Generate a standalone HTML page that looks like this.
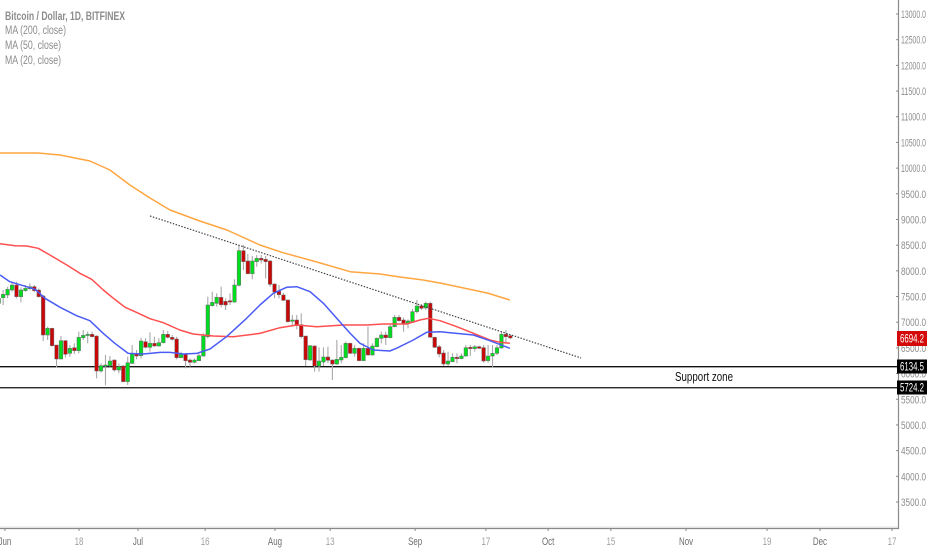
<!DOCTYPE html>
<html>
<head>
<meta charset="utf-8">
<title>Bitcoin / Dollar chart</title>
<style>
html,body{margin:0;padding:0;background:#fff;width:932px;height:550px;overflow:hidden}
svg{display:block;font-family:"Liberation Sans",sans-serif;filter:blur(0.35px)}
</style>
</head>
<body>
<svg id="chart" width="932" height="550" viewBox="0 0 932 550" xmlns="http://www.w3.org/2000/svg">
  <g id="legend" fill="#8c8c8c" font-size="11.5">
    <text x="5" y="20" font-weight="bold" textLength="120" lengthAdjust="spacingAndGlyphs">Bitcoin / Dollar, 1D, BITFINEX</text>
    <text x="5" y="34" textLength="61" lengthAdjust="spacingAndGlyphs">MA (200, close)</text>
    <text x="5" y="49" textLength="56" lengthAdjust="spacingAndGlyphs">MA (50, close)</text>
    <text x="5" y="64" textLength="56" lengthAdjust="spacingAndGlyphs">MA (20, close)</text>
  </g>
  <g id="marks"></g>
  <text x="675" y="381" font-size="12.5" fill="#111" textLength="58" lengthAdjust="spacingAndGlyphs">Support zone</text>
  <g id="axes"></g>
</svg>
<script>
var priceTicks = [13000,12500,12000,11500,11000,10500,10000,9500,9000,8500,8000,7500,7000,6500,6000,5500,5000,4500,4000,3500];
var dateTickBars = [1.4,18.05,31.3,46.4,62.1,74.5,93.6,109.5,123.5,137.6,154.5,172.7,184.6,200.8];
var dateTickLabels = ["Jun","18","Jul","16","Aug","13","Sep","17","Oct","15","Nov","19","Dec","17"];
var dateTickMajor = [1,0,1,0,1,0,1,0,1,0,1,0,1,0];

var opens = [7367,7478,7530,7627,7724,7497,7614,7653,7692,7627,7510,6751,6881,6556,6284,6641,6394,6504,6446,6699,6744,6764,6731,6050,6147,6154,6264,6070,6147,5843,6199,6394,6349,6621,6511,6589,6537,6602,6764,6705,6673,6310,6375,6264,6219,6251,6342,6718,7322,7367,7484,7406,7419,7393,7718,8393,8192,7945,8179,8243,8224,8192,7744,7601,7530,7432,7017,7043,6952,6731,6264,6537,6147,6225,6323,6264,6186,6265,6310,6589,6394,6492,6252,6492,6362,6524,6686,6751,6699,6914,7095,7043,6978,7011,7206,7316,7277,7368,6706,6524,6401,6187,6232,6317,6291,6342,6511,6485,6524,6505,6252,6342,6394,6498,6764,6738];
var highs = [7530,7627,7692,7789,7789,7679,7724,7757,7724,7659,7530,6913,6894,6556,6731,6654,6556,6589,6816,6848,6816,6816,6744,6199,6362,6342,6277,6199,6167,6329,6556,6459,6699,6686,6803,6718,6686,6848,6829,6751,6718,6427,6394,6297,6297,6394,6783,7497,7594,7562,7692,7465,7562,7835,8503,8503,8328,8289,8308,8308,8289,8211,7757,7724,7575,7445,7140,7140,7173,6731,6556,6550,6511,6511,6524,6277,6654,6557,6621,6602,6557,6505,6589,6914,6589,6706,6816,6816,6946,7141,7141,7089,7056,7257,7433,7355,7400,7400,6719,6557,6459,6427,6394,6394,6394,6557,6557,6557,6544,6557,6557,6557,6557,6816,6849,6751];
var lows = [7335,7335,7465,7595,7465,7387,7595,7627,7588,7478,6634,6654,6524,6121,6277,6316,6329,6381,6394,6654,6589,6705,5907,6018,5771,6134,6037,6005,5830,5778,6186,6277,6297,6491,6427,6524,6524,6589,6686,6641,6277,6297,6102,6134,6199,6245,6329,6686,7303,7303,7290,7238,7335,7380,7692,8016,7932,7835,8081,8146,7854,7692,7465,7465,7413,6991,6913,6861,6686,6147,6251,6037,6037,6147,6199,5875,6173,6200,6297,6381,6330,6239,6245,6349,6349,6511,6589,6557,6686,6901,7011,6816,6881,6998,7173,7238,7238,6706,6498,6317,6148,6148,6219,6200,6278,6330,6342,6427,6479,6213,6213,6122,6362,6485,6589,6667];
var closes = [7465,7543,7640,7724,7497,7627,7659,7692,7614,7497,6751,6881,6543,6284,6641,6375,6491,6446,6705,6744,6764,6718,6050,6154,6167,6245,6070,6134,5843,6212,6394,6342,6634,6511,6589,6537,6602,6764,6705,6667,6310,6375,6251,6219,6264,6349,6731,7335,7387,7484,7341,7335,7393,7724,8393,8179,7945,8192,8243,8211,8179,7737,7588,7536,7426,7011,7043,6933,6718,6271,6543,6147,6245,6323,6258,6186,6277,6317,6589,6394,6492,6252,6492,6362,6537,6686,6751,6699,6914,7095,7030,6978,7024,7206,7316,7270,7368,6706,6511,6381,6187,6245,6317,6291,6342,6505,6485,6524,6492,6245,6342,6394,6505,6764,6719,6694];

var ma200Bars = [0.3,8.8,13.8,20.5,25,29.5,34,38.5,45.2,51.3,58.7,63.9,71.5,79,85.7,90.2,95.4,99.2,109.8,114.9];
var ma200Values = [10294,10294,10255,10138,9963,9671,9418,9184,8970,8795,8503,8353,8172,7983,7939,7880,7822,7763,7569,7432];
var ma50Bars = [0.3,3.7,6.3,8.9,11.5,15.3,18.3,20.9,23.5,26.1,28.4,31,34,37,40.7,43.7,48.2,52.7,58.7,63.2,67,71.5,77.5,79.7,82.7,86.4,91.7,94.7,96.6,99.2,102.9,106.7,110.4,112.7,114.9];
var ma50Values = [8529,8490,8484,8438,8308,8114,7951,7835,7627,7445,7290,7192,7069,6991,6848,6770,6731,6718,6783,6894,6946,6913,6946,6946,6946,6965,6965,7043,7076,7030,6914,6784,6654,6609,6589];
var ma20Bars = [0.3,2.5,5.5,8.2,10.4,13.8,17.5,20.5,23.5,26.1,29.1,32.5,36.3,38.5,41.5,44.5,47.5,51.2,55.7,58.7,61.7,64.7,67,70,73,76,79,81.2,84.2,87.9,89.4,93.2,96.2,99.2,106.7,110.4,114.9];
var ma20Values = [7919,7789,7711,7640,7465,7290,7127,7030,6783,6589,6394,6381,6413,6413,6381,6394,6478,6718,7075,7335,7562,7679,7692,7595,7367,7075,6783,6589,6459,6440,6492,6654,6803,6816,6751,6641,6492];

var trendBars = [34,130.9];
var trendPrices = [9068,6304];
var supportLevels = [6134.5,5724.2];
var lastPrice = 6694.2;

var NS = "http://www.w3.org/2000/svg";
function xOf(bar){ return -1.3 + 4.449 * bar; }
function yOf(price){ return 14 + (13000 - price) * 0.05137; }
function make(tag, attrs, parent){
  var el = document.createElementNS(NS, tag);
  for (var k in attrs) el.setAttribute(k, attrs[k]);
  parent.appendChild(el);
  return el;
}
function polyPoints(bars, values){
  return bars.map(function(b, i){ return xOf(b).toFixed(1) + "," + yOf(values[i]).toFixed(1); }).join(" ");
}
var marks = document.getElementById("marks");
var axes = document.getElementById("axes");

/* support lines */
supportLevels.forEach(function(level){
  var ln = make("line", {x1:0, x2:898, y1:yOf(level), y2:yOf(level), stroke:"#111", "stroke-width":1.3}, marks);
  
  
});

/* candles */
opens.forEach(function(o, i){
  var c = closes[i], up = c >= o, x = xOf(i);
  var g = make("g", {}, marks);
  
  
  make("line", {x1:x, x2:x, y1:yOf(highs[i]), y2:yOf(lows[i]), stroke:"#a8a8a8", "stroke-width":1.1}, g);
  var top = yOf(Math.max(o, c)), h = Math.max(1.2, Math.abs(yOf(o) - yOf(c)));
  make("rect", {x:x-1.8, y:top, width:3.6, height:h, fill:up ? "#00dc1e" : "#c80808", stroke:"#6a6a6a", "stroke-width":0.5}, g);
});

/* moving averages */
var ma200Line = make("polyline", {points:polyPoints(ma200Bars, ma200Values), fill:"none", stroke:"#ffa640", "stroke-width":1.5, "stroke-linejoin":"round"}, marks);


var ma50Line = make("polyline", {points:polyPoints(ma50Bars, ma50Values), fill:"none", stroke:"#ff4f4f", "stroke-width":1.5, "stroke-linejoin":"round"}, marks);


var ma20Line = make("polyline", {points:polyPoints(ma20Bars, ma20Values), fill:"none", stroke:"#4a5cf5", "stroke-width":1.5, "stroke-linejoin":"round"}, marks);



/* trend line */
var trend = make("polyline", {points:polyPoints(trendBars, trendPrices), fill:"none", stroke:"#444", "stroke-width":1.2, "stroke-dasharray":"1.5 1.5"}, marks);



/* axes frame */
var xAxisShade = make("line", {x1:0, x2:899, y1:527, y2:527, stroke:"#e4e4e4", "stroke-width":1}, axes);


var xAxisLine = make("line", {x1:0, x2:899, y1:528.5, y2:528.5, stroke:"#8a8a8a", "stroke-width":1.2}, axes);


var yAxisLine = make("line", {x1:898.5, x2:898.5, y1:0, y2:529, stroke:"#8a8a8a", "stroke-width":1.2}, axes);



/* price ticks */
priceTicks.forEach(function(p){
  var y = yOf(p);
  var tick = make("line", {x1:896, x2:899, y1:y, y2:y, stroke:"#8a8a8a", "stroke-width":1}, axes);
  
  
  var label = make("text", {x:901, y:y+4, "font-size":11, fill:"#8c8c8c", textLength:25, lengthAdjust:"spacingAndGlyphs"}, axes);
  
  
  label.textContent = p.toFixed(1);
});

/* date ticks */
dateTickBars.forEach(function(b, i){
  var x = xOf(b);
  var tick = make("line", {x1:x, x2:x, y1:528, y2:531, stroke:"#8a8a8a", "stroke-width":1}, axes);
  
  
  var label = make("text", {x:x, y:545, "font-size":11, "text-anchor":"middle", fill:dateTickMajor[i] ? "#6e6e6e" : "#a0a0a0", transform:"translate(" + x + " 0) scale(0.72 1) translate(" + (-x) + " 0)"}, axes);
  
  
  label.textContent = dateTickLabels[i];
});

/* price tags */
function priceTag(price, top, height, fill){
  var g = make("g", {}, axes);
  make("rect", {x:897, y:top, width:30, height:height, fill:fill}, g);
  var t = make("text", {x:912, y:top + height/2 + 4, "font-size":11.5, fill:"#fff", "text-anchor":"middle", textLength:24, lengthAdjust:"spacingAndGlyphs"}, g);
  t.textContent = price.toFixed(1);
  return g;
}
var lastTag = priceTag(lastPrice, 331, 15, "#d40a0a");


var supportTagHigh = priceTag(supportLevels[0], 359.5, 14, "#000");


var supportTagLow = priceTag(supportLevels[1], 380.5, 14, "#000");


</script>
</body>
</html>
